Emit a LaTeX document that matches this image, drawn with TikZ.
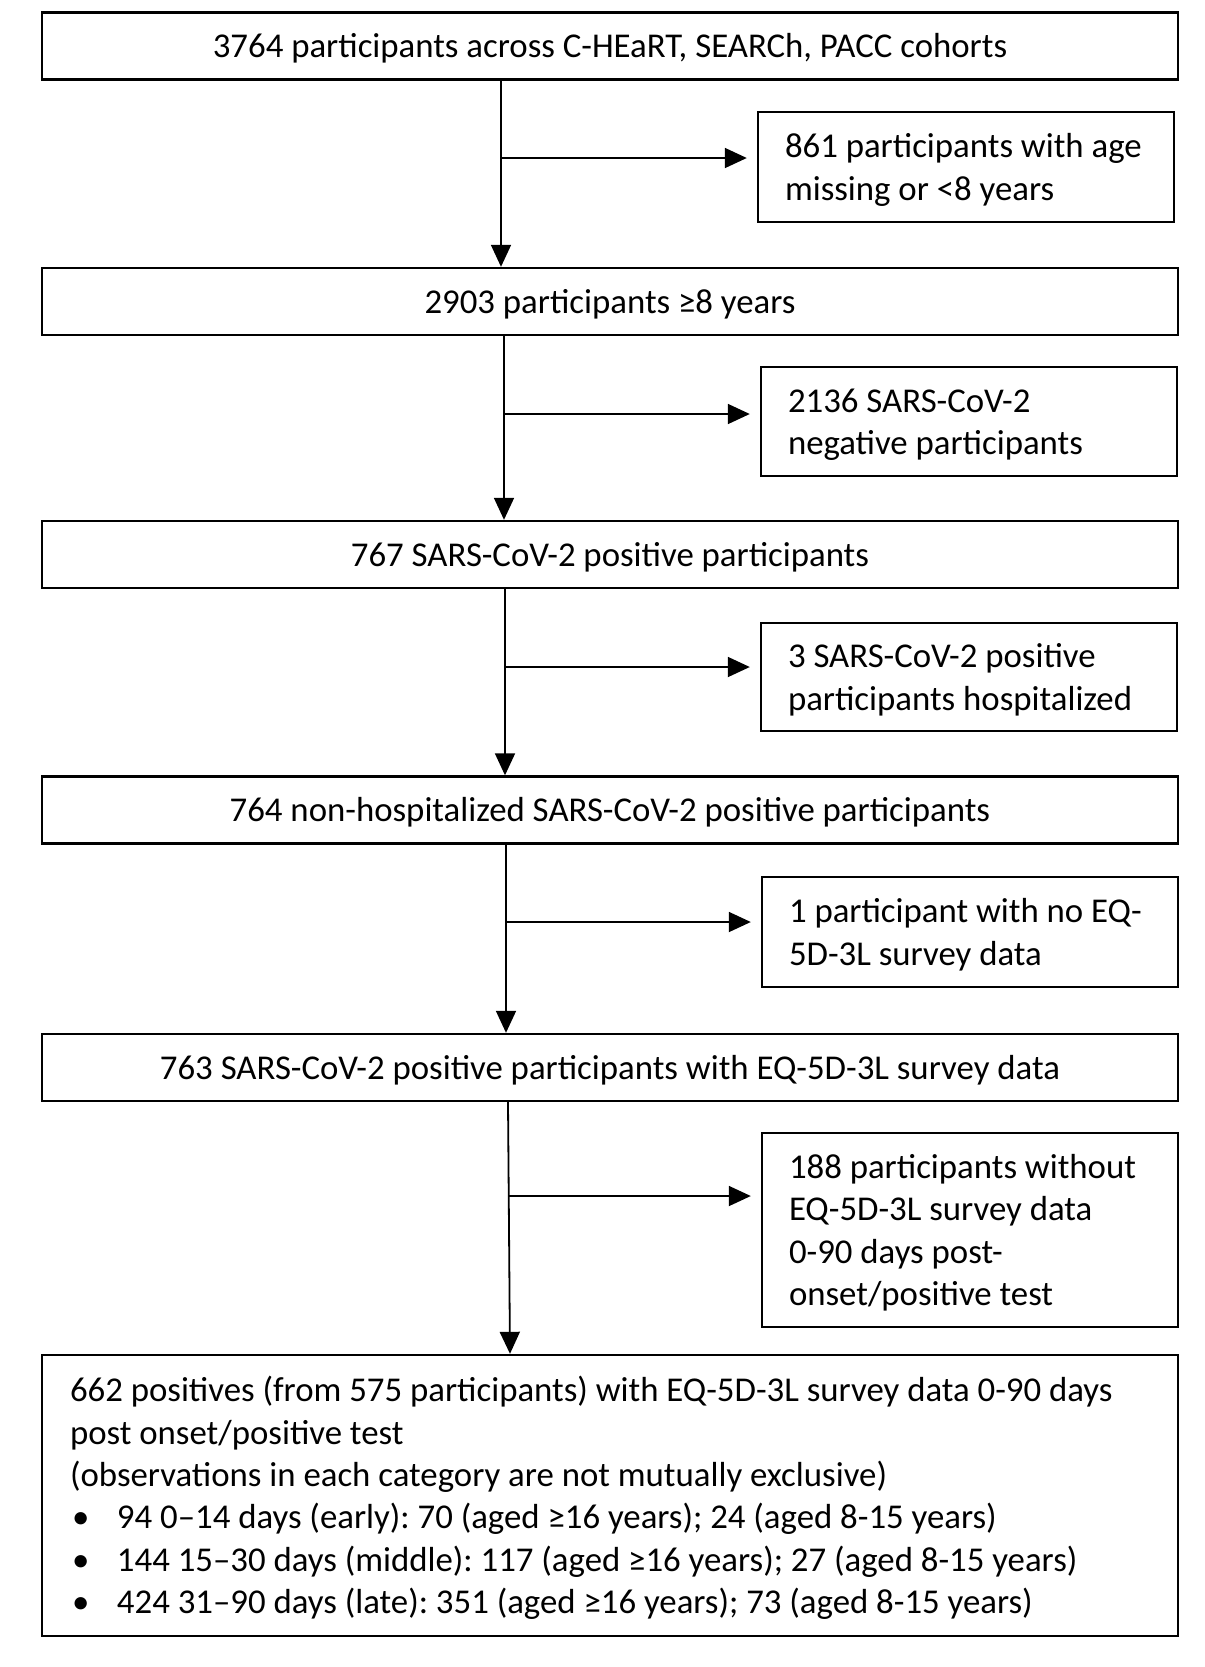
\documentclass[tikz,border=0pt]{standalone}
\usepackage{fontspec}
\setmainfont{Carlito}
\usetikzlibrary{arrows.meta}

\begin{document}
\begin{tikzpicture}[x=0.5pt, y=-0.5pt,
        font=\fontsize{17.4pt}{21.2pt}\selectfont\frenchspacing,
        mainbox/.style={draw, line width=1.2pt, minimum width=568pt, minimum height=33.5pt, inner sep=0pt, text height=14.5pt, text depth=2.8pt, align=center},
        sidebox/.style={draw, line width=1.2pt, text width=181pt, inner xsep=13.5pt, inner ysep=0pt, align=flush left,
            execute at begin node={\rule{0pt}{16.4pt}}, execute at end node={\rule[-4.5pt]{0pt}{0pt}}},
        listbox/.style={draw, line width=1.2pt, minimum width=568pt, text width=540pt, inner xsep=14pt, inner ysep=0pt, align=flush left,
            execute at begin node={\rule{0pt}{16.7pt}}, execute at end node={\rule[-4.5pt]{0pt}{0pt}}},
        arr/.style={-{Triangle[length=11pt,width=10pt]}, line width=0.9pt}]
        \useasboundingbox (0,0) rectangle (1205,1667);

        \node[mainbox] (n1) at (610,46) {3764 participants across C-HEaRT, SEARCh, PACC cohorts};
        \node[mainbox] (n2) at (610,301.5) {2903 participants ≥8 years};
        \node[mainbox] (n3) at (610,554.5) {767 SARS-CoV-2 positive participants};
        \node[mainbox] (n4) at (610,810) {764 non-hospitalized SARS-CoV-2 positive participants};
        \node[mainbox] (n5) at (610,1067.5) {763 SARS-CoV-2 positive participants with EQ-5D-3L survey data};
        \node[listbox, minimum height=140.5pt] (n6) at (610,1495.5) {662 positives (from 575 participants) with EQ-5D-3L survey data 0-90 days\\
            post onset/positive test\\
            (observations in each category are not mutually exclusive)\\
            \makebox[23.5pt][l]{\hspace{1pt}\textbullet}94 0–14 days (early): 70 (aged ≥16 years); 24 (aged 8-15 years)\\
            \makebox[23.5pt][l]{\hspace{1pt}\textbullet}144 15–30 days (middle): 117 (aged ≥16 years); 27 (aged 8-15 years)\\
            \makebox[23.5pt][l]{\hspace{1pt}\textbullet}424 31–90 days (late): 351 (aged ≥16 years); 73 (aged 8-15 years)};

        \node[sidebox, minimum height=55pt] (ex1) at (966,167) {861 participants with age\\missing or <8 years};
        \node[sidebox, minimum height=54.5pt] (ex2) at (969,421.5) {2136 SARS-CoV-2\\negative participants};
        \node[sidebox, minimum height=54pt] (ex3) at (969,677) {3 SARS-CoV-2 positive\\participants hospitalized};
        \node[sidebox, minimum height=55pt] (ex4) at (970,932) {1 participant with no EQ-\\5D-3L survey data};
        \node[sidebox, minimum height=97pt] (ex5) at (970,1230) {188 participants without\\EQ-5D-3L survey data\\0-90 days post-\\onset/positive test};

        % branch points on the main line
        \coordinate (j1) at (501,158);
        \coordinate (j2) at (504,414);
        \coordinate (j3) at (505,667);
        \coordinate (j4) at (506,922);
        \coordinate (j5) at (508,1196);

        \draw[arr] (n1.south -| j1) -- (n2.north -| j1);
        \draw[arr] (n2.south -| j2) -- (n3.north -| j2);
        \draw[arr] (n3.south -| j3) -- (n4.north -| j3);
        \draw[arr] (n4.south -| j4) -- (n5.north -| j4);
        \draw[arr] (n5.south -| j5) -- ([xshift=1pt]n6.north -| j5);

        \draw[arr] (j1) -- ([xshift=-5pt]ex1.west |- j1);
        \draw[arr] (j2) -- ([xshift=-5pt]ex2.west |- j2);
        \draw[arr] (j3) -- ([xshift=-5pt]ex3.west |- j3);
        \draw[arr] (j4) -- ([xshift=-5pt]ex4.west |- j4);
        \draw[arr] (j5) -- ([xshift=-5pt]ex5.west |- j5);
\end{tikzpicture}
\end{document}
